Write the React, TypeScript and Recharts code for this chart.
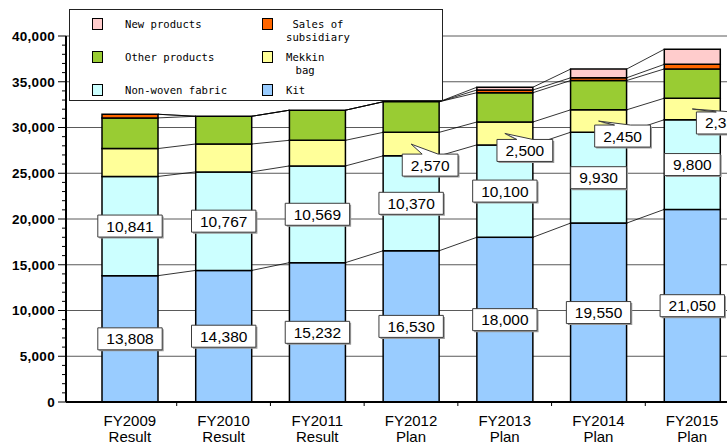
import React from "react";
import { BarChart, Bar, XAxis, YAxis, CartesianGrid, Legend, LabelList } from "recharts";

// values in million yen
const categories = ["FY2009", "FY2010", "FY2011", "FY2012", "FY2013", "FY2014", "FY2015"];
const periods = ["Result", "Result", "Result", "Plan", "Plan", "Plan", "Plan"];

const kit = [13808, 14380, 15232, 16530, 18000, 19550, 21050];
const nonWoven = [10841, 10767, 10569, 10370, 10100, 9930, 9800];
const mekkinBag = [3050, 3050, 2800, 2570, 2500, 2450, 2350];
const otherProducts = [3350, 3030, 3290, 3340, 3200, 3200, 3200];
const subsidiary = [400, 0, 0, 0, 300, 300, 500];
const newProducts = [0, 0, 0, 0, 300, 950, 1650];

const yTicks = [0, 5000, 10000, 15000, 20000, 25000, 30000, 35000, 40000];
const yMinorTicks = [
  0, 1000, 2000, 3000, 4000, 5000, 6000, 7000, 8000, 9000, 10000, 11000, 12000, 13000,
  14000, 15000, 16000, 17000, 18000, 19000, 20000, 21000, 22000, 23000, 24000, 25000,
  26000, 27000, 28000, 29000, 30000, 31000, 32000, 33000, 34000, 35000, 36000, 37000,
  38000, 39000, 40000,
];

// stacked bottom -> top
const series = [
  { key: "kit", name: "Kit", color: "#99CCFF", values: kit },
  { key: "nonWoven", name: "Non-woven fabric", color: "#CCFFFF", values: nonWoven },
  { key: "mekkin", name: "Mekkin\nbag", color: "#FFFF99", values: mekkinBag },
  { key: "other", name: "Other products", color: "#99CC33", values: otherProducts },
  { key: "subsidiary", name: "Sales of\nsubsidiary", color: "#FF6600", values: subsidiary },
  { key: "newProducts", name: "New products", color: "#FFCCCC", values: newProducts },
];

const data = categories.map((category, i) => {
  const row: Record<string, string | number> = { category, period: periods[i] };
  series.forEach((s) => {
    row[s.key] = s.values[i];
  });
  return row;
});

// layout
const CHART_W = 760;
const CHART_H = 445;
const PLOT_LEFT = 66;
const PLOT_RIGHT = 739;
const PAD_LEFT = 17;
const STEP = (PLOT_RIGHT - PLOT_LEFT - PAD_LEFT) / categories.length;
const LABEL_FS = 15.5;
const FONT = "'Liberation Sans', Arial, sans-serif";

// callout box offsets (from segment centre)
const mekkinCallout = [null, null, null, { dx: 19, dy: 21 }, { dx: 20, dy: 17 }, { dx: 24, dy: 15 }, { dx: 32, dy: 14 }];
const newCallout = [null, null, null, null, null, null, { dx: 1, dy: -27 }];

const textWidth = (s: string) =>
  s.split("").reduce((w, ch) => w + (ch === "," ? 0.278 : 0.556), 0) * LABEL_FS;

const ValueBox = ({ cx, cy, text, tip }: { cx: number; cy: number; text: string; tip?: { x: number; y: number } }) => {
  const w = textWidth(text) + 17;
  const h = 22;
  const l = cx - w / 2;
  const t = cy - h / 2;
  const r = l + w;
  const b = t + h;
  let d = `M${l},${t}H${r}V${b}H${l}Z`;
  if (tip && tip.y < t) d = `M${l},${t}H${cx - 8}L${tip.x},${tip.y}L${cx + 8},${t}H${r}V${b}H${l}Z`;
  else if (tip) d = `M${l},${t}H${r}V${b}H${cx + 8}L${tip.x},${tip.y}L${cx - 8},${b}H${l}Z`;
  return (
    <g>
      <path d={d} transform="translate(1.5,1.5)" fill="#9a9a9a" />
      <path d={d} fill="#fff" stroke="#3c3c3c" strokeWidth={1} />
      <text x={cx} y={cy + 5.5} textAnchor="middle" fontFamily={FONT} fontSize={LABEL_FS} fill="#000">
        {text}
      </text>
    </g>
  );
};

const readBox = (props: any) => {
  const vb = props.viewBox && props.viewBox.width !== undefined ? props.viewBox : props;
  return { x: vb.x, y: vb.y, width: vb.width, height: vb.height };
};

const readValue = (v: any) => (Array.isArray(v) ? v[1] - v[0] : Number(v));

const centerLabel = (props: any) => {
  const { x, y, width, height } = readBox(props);
  const value = readValue(props.value);
  if (!value) return null;
  return <ValueBox cx={x + width / 2} cy={y + height / 2} text={value.toLocaleString("en-US")} />;
};

const calloutLabel = (offsets: ({ dx: number; dy: number } | null)[]) => (props: any) => {
  const off = offsets[props.index];
  const value = readValue(props.value);
  if (!off || !value) return null;
  const { x, y, width, height } = readBox(props);
  const tx = x + width / 2;
  const ty = y + height / 2;
  return <ValueBox cx={tx + off.dx} cy={ty + off.dy} text={value.toLocaleString("en-US")} tip={{ x: tx, y: ty }} />;
};

// bottom segment also draws the series lines to the next column
const KitShape = (props: any) => {
  const { x, y, width, height } = props;
  const i = typeof props.index === "number" ? props.index : categories.indexOf(props.payload?.category);
  const base = y + height;
  const k = height / kit[i];
  const lines: React.ReactNode[] = [];
  if (i < categories.length - 1) {
    let a = 0;
    let b = 0;
    series.forEach((s) => {
      a += s.values[i];
      b += s.values[i + 1];
      lines.push(
        <line key={s.key} x1={x + width} y1={base - a * k} x2={x + STEP} y2={base - b * k} stroke="#000" strokeWidth={0.8} />
      );
    });
  }
  return (
    <g>
      <rect x={x} y={y} width={width} height={height} fill={series[0].color} stroke="#000" strokeWidth={1.5} />
      {lines}
    </g>
  );
};

const XTick = (props: any) => {
  const { x, y, payload } = props;
  const i = typeof payload.index === "number" ? payload.index : categories.indexOf(payload.value);
  return (
    <g>
      {i > 0 && <line x1={x - STEP / 2} x2={x - STEP / 2} y1={y} y2={y + 4} stroke="#000" strokeWidth={1} />}
      <text textAnchor="middle" fontFamily={FONT} fontSize={15} fill="#000">
        <tspan x={x} y={y + 24}>{payload.value}</tspan>
        <tspan x={x} y={y + 40}>{periods[i]}</tspan>
      </text>
    </g>
  );
};

const YTick = (props: any) => {
  const { x, y, payload } = props;
  const major = payload.value % 5000 === 0;
  return (
    <g>
      <line x1={x - (major ? 8 : 4)} x2={x} y1={y} y2={y} stroke="#000" strokeWidth={1} />
      {major && (
        <text x={x - 11} y={y + 4.8} textAnchor="end" fontFamily={FONT} fontWeight="bold" fontSize={13.5} letterSpacing={0.3} fill="#000">
          {payload.value.toLocaleString("en-US")}
        </text>
      )}
    </g>
  );
};

const seriesIndex = (it: any) => series.findIndex((s) => s.key === it.dataKey || s.name === it.value);

const LegendBox = (props: any) => {
  // top of the stack first, two entries per row
  const items = [...(props.payload || [])].sort((a, b) => seriesIndex(b) - seriesIndex(a));
  return (
    <div
      style={{
        position: "relative",
        width: 374,
        height: 92,
        boxSizing: "border-box",
        border: "1px solid #222",
        background: "#fff",
        fontFamily: "'DejaVu Sans Mono', monospace",
        fontSize: 10.6,
        lineHeight: "12.5px",
        color: "#000",
      }}
    >
      {items.map((it: any, i: number) => {
        const col = i % 2;
        const row = Math.floor(i / 2);
        const top = 7.7 + row * 33;
        return (
          <React.Fragment key={String(it.value)}>
            <div
              style={{
                position: "absolute",
                left: col ? 192 : 22,
                top,
                width: 11,
                height: 12.5,
                boxSizing: "border-box",
                border: "1px solid #000",
                background: it.color,
              }}
            />
            <div style={{ position: "absolute", left: col ? 216 : 55, top: top + 0.3, whiteSpace: "pre", textAlign: "center" }}>
              {it.value}
            </div>
          </React.Fragment>
        );
      })}
    </div>
  );
};

export default function App() {
  return (
    <div style={{ position: "absolute", left: 0, top: 0, width: 727, height: 445, overflow: "hidden", background: "#fff" }}>
      <BarChart
        width={CHART_W}
        height={CHART_H}
        data={data}
        margin={{ top: 36, right: CHART_W - PLOT_RIGHT, bottom: 0, left: 0 }}
        barSize={56}
      >
        <CartesianGrid vertical={false} stroke="#5a5a5a" horizontalValues={yTicks} />
        <XAxis
          dataKey="category"
          height={43}
          padding={{ left: PAD_LEFT, right: 0 }}
          interval={0}
          tickLine={false}
          tickSize={0}
          tickMargin={0}
          tick={<XTick />}
          axisLine={{ stroke: "#000", strokeWidth: 2 }}
        />
        <YAxis
          width={PLOT_LEFT}
          domain={[0, 40000]}
          ticks={yMinorTicks}
          interval={0}
          allowDataOverflow
          tickLine={false}
          tickSize={0}
          tickMargin={0}
          tick={<YTick />}
          axisLine={{ stroke: "#000", strokeWidth: 2 }}
        />
        <Legend
          layout="horizontal"
          verticalAlign="middle"
          align="center"
          itemSorter={null}
          content={<LegendBox />}
          wrapperStyle={{ top: 9, left: 69, width: 374, height: 92 }}
        />
        <Bar dataKey="kit" name="Kit" stackId="a" fill="#99CCFF" stroke="#000" strokeWidth={1.5} shape={<KitShape />} isAnimationActive={false}>
          <LabelList dataKey="kit" content={centerLabel} />
        </Bar>
        <Bar dataKey="nonWoven" name="Non-woven fabric" stackId="a" fill="#CCFFFF" stroke="#000" strokeWidth={1.5} isAnimationActive={false}>
          <LabelList dataKey="nonWoven" content={centerLabel} />
        </Bar>
        <Bar dataKey="mekkin" name={series[2].name} stackId="a" fill="#FFFF99" stroke="#000" strokeWidth={1.5} isAnimationActive={false}>
          <LabelList dataKey="mekkin" content={calloutLabel(mekkinCallout)} />
        </Bar>
        <Bar dataKey="other" name="Other products" stackId="a" fill="#99CC33" stroke="#000" strokeWidth={1.5} isAnimationActive={false} />
        <Bar dataKey="subsidiary" name={series[4].name} stackId="a" fill="#FF6600" stroke="#000" strokeWidth={1.5} isAnimationActive={false} />
        <Bar dataKey="newProducts" name="New products" stackId="a" fill="#FFCCCC" stroke="#000" strokeWidth={1.5} isAnimationActive={false}>
          <LabelList dataKey="newProducts" content={calloutLabel(newCallout)} />
        </Bar>
      </BarChart>
    </div>
  );
}
